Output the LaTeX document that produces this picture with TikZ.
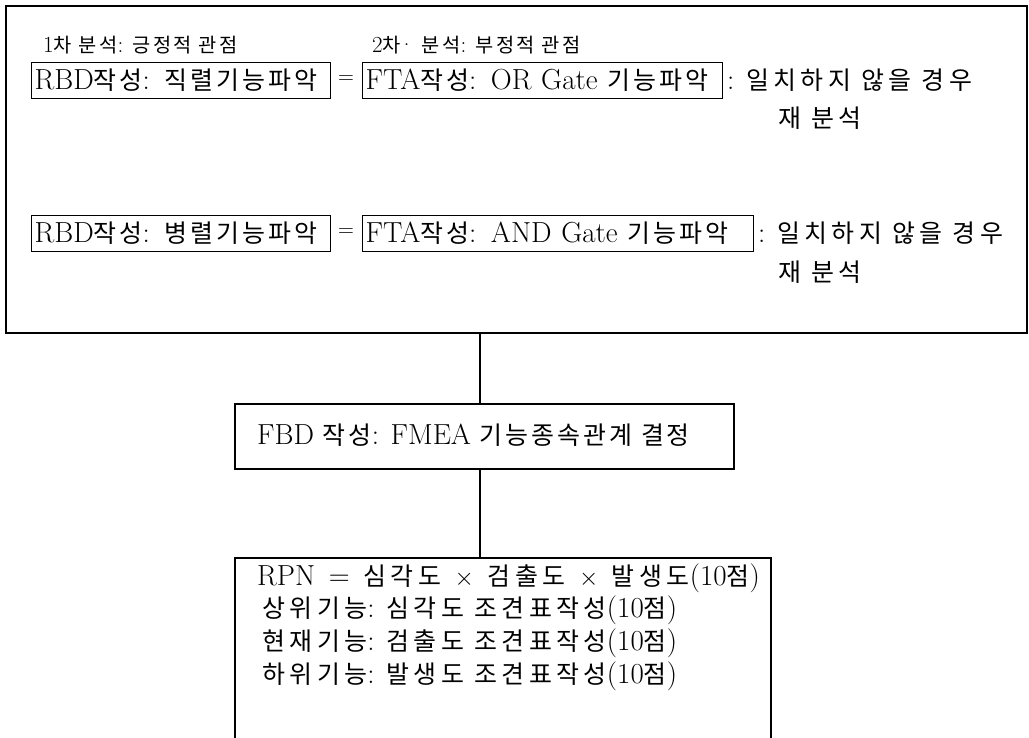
\documentclass[tikz,border=0pt]{standalone}
\usepackage{fontspec}
\newfontfamily\krfont{Noto Sans CJK KR}[Scale=0.86, LetterSpace=12]
\newfontfamily\krwide{Noto Sans CJK KR}[Scale=0.86, LetterSpace=18]
\newcommand{\ko}[1]{{\krfont #1}}
\newcommand{\kw}[1]{{\krwide #1}}
\usetikzlibrary{calc}
\begin{document}
\begin{tikzpicture}[x=1pt,y=-1pt, font=\fontsize{29}{33}\selectfont,
  box/.style={draw, line width=1.3pt, anchor=north west, inner ysep=0pt, inner xsep=3pt, align=left},
  frame/.style={draw, line width=1.6pt, anchor=north west, inner sep=0pt},
  lbl/.style={anchor=west, inner sep=0pt},
  head/.style={anchor=west, inner sep=0pt, font=\fontsize{23}{26}\selectfont},
  eqs/.style={inner sep=0pt, font=\fontsize{22}{24}\selectfont},
  link/.style={line width=1.4pt}]
\useasboundingbox (0,0) rectangle (1029,737);
\clip (0,0) rectangle (1029,737);
% outer frame
\node[frame, minimum width=1021pt, minimum height=327pt] (outer) at (5,5) {};
% headers
\node[head] (h1) at (43,45) {1\ko{차 분석}: \ko{긍정적 관점}};
\node[head] (h2) at (372,45) {2\ko{차}\kern-2.5pt·\ \ko{분석}: \ko{부정적 관점}};
% row 1
\node[box, minimum height=36pt, text width=293pt] (rbd1) at (31,62) {RBD\ko{작성}: \ko{직렬기능파악}};
\node[eqs] (eq1) at (346,80) {=};
\node[box, minimum height=36pt, text width=354pt] (fta1) at (362,62) {FTA\ko{작성}: OR Gate \ko{기능파악}};
\node[lbl] (n1) at (727,80) {: \kw{일치하지 않을 경우}};
\node[lbl] (r1) at (778,118) {\kw{재 분석}};
% row 2
\node[box, minimum height=36pt, text width=293pt] (rbd2) at (31,215) {RBD\ko{작성}: \ko{병렬기능파악}};
\node[eqs] (eq2) at (346,233) {=};
\node[box, minimum height=36pt, text width=385pt] (fta2) at (362,215) {FTA\ko{작성}: AND Gate \ko{기능파악}};
\node[lbl] (n2) at (758,233) {: \kw{일치하지 않을 경우}};
\node[lbl] (r2) at (778,272) {\kw{재 분석}};
% FBD box
\node[frame, minimum width=499pt, minimum height=65pt] (fbd) at (234,403) {};
\node[lbl] (fbdt) at (257,435) {FBD \ko{작성}: FMEA \ko{기능종속관계 결정}};
% bottom box
\node[frame, minimum width=536pt, minimum height=220pt] (calc) at (234,557) {};
\node[lbl] (c1) at (257,578) {RPN \,=\, \kw{심각도} \,$\times$\, \kw{검출도} \,$\times$\, \kw{발생도}(10\kw{점})};
\node[lbl] (c2) at (262,610) {\kw{상위기능}: \kw{심각도 조견표작성}(10\kw{점})};
\node[lbl] (c3) at (262,643) {\kw{현재기능}: \kw{검출도 조견표작성}(10\kw{점})};
\node[lbl] (c4) at (262,676) {\kw{하위기능}: \kw{발생도 조견표작성}(10\kw{점})};
% connectors
\draw[link] (fbd.north -| 480,0) -- (outer.south -| 480,0);
\draw[link] (fbd.south -| 480,0) -- (calc.north -| 480,0);
\end{tikzpicture}
\end{document}
